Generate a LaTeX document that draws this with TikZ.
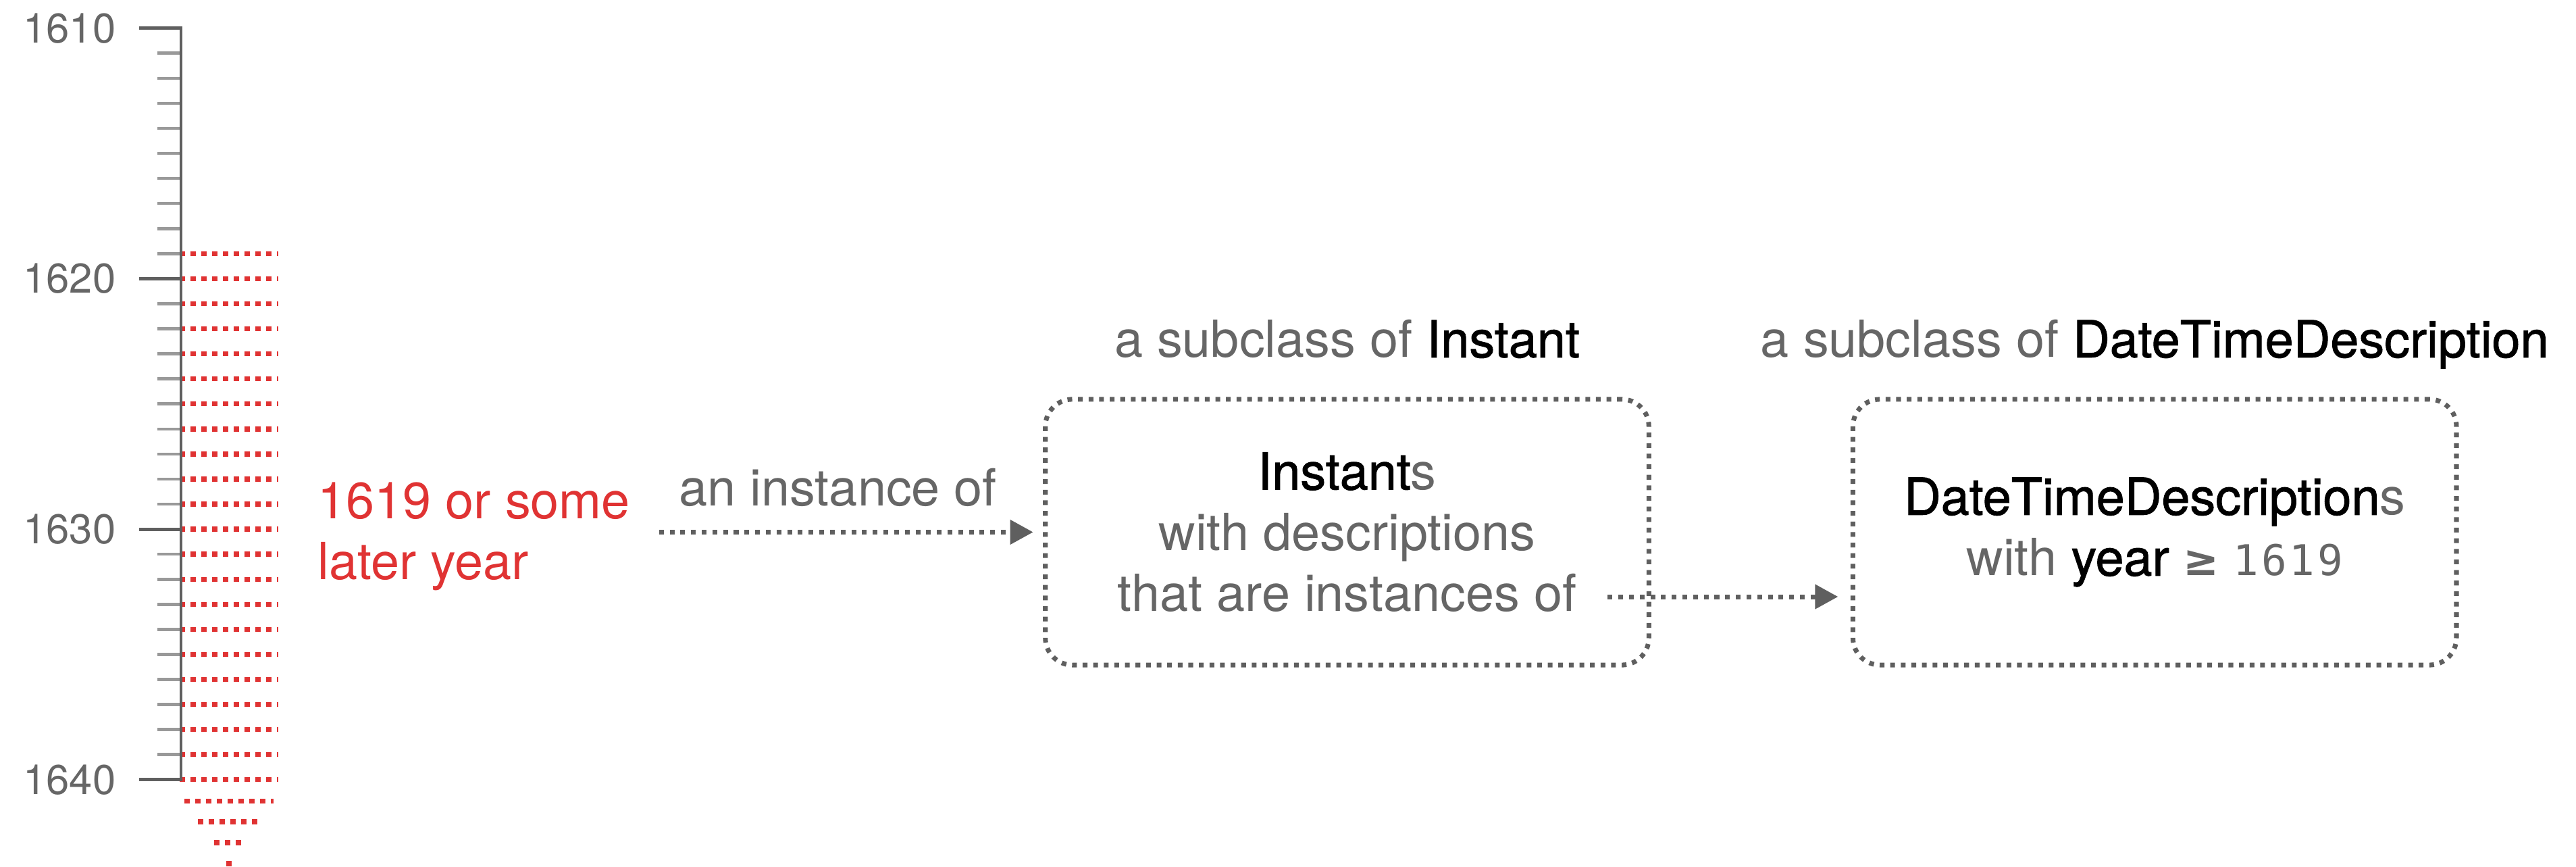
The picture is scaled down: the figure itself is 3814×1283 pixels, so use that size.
\documentclass[tikz,border=0pt]{standalone}
\usepackage{fontspec}
\setmainfont{TeX Gyre Heros}
\newfontfamily\clsfont[FakeBold=1.2]{TeX Gyre Heros}
\newfontfamily\geqfont[BoldFont={DejaVu Sans Bold}]{DejaVu Sans}
\newfontfamily\yearmono[LetterSpace=6]{DejaVu Sans Mono}
\newcommand\cls[1]{{\clsfont\color{black}#1}}
\usepackage{tikz}
\usetikzlibrary{arrows.meta, positioning}
\definecolor{ink}{HTML}{5F5F5F}
\definecolor{txtgray}{HTML}{666666}
\definecolor{tickgray}{HTML}{999999}
\definecolor{yearred}{HTML}{E03333}
\tikzstyle{conn} = [line width=2pt, draw=ink, dash pattern=on 2pt off 2.5pt,
-{Triangle[length=9.7pt, width=10pt]}]
\tikzstyle{classbox} = [rectangle, rounded corners=0.4cm,
minimum width=8.93cm,
minimum height=3.93cm,
outer sep=0pt,
align=center,
draw=ink, line width=2pt, dash pattern=on 2pt off 2.45pt,
text=txtgray, font=\fontsize{21.5}{25.6}\selectfont]
\tikzstyle{note} = [inner sep=0pt, text=txtgray, font=\fontsize{21.5}{25.6}\selectfont]
\tikzstyle{yearlabel} = [anchor=east, inner sep=0pt, text=txtgray, font=\fontsize{17.5}{20}\selectfont]
\tikzstyle{majortick} = [line width=1.4pt, draw=ink]
\tikzstyle{minortick} = [line width=1.3pt, draw=tickgray]
\tikzstyle{reddots} = [line width=2.1pt, draw=yearred, dash pattern=on 2.15pt off 2.4pt]

\begin{document}
\begin{tikzpicture}[x=0.01cm, y=-0.01cm]
            \useasboundingbox (0,0) rectangle (3814,1283);

            % timeline, one tick per year
            \foreach \k in {0,...,30}
                \draw [minortick] (233,{41.7+37.07*\k}) -- (268,{41.7+37.07*\k});
            \foreach \k in {9,...,30}
                \draw [reddots] (266,{41.7+37.07*\k}) -- (412,{41.7+37.07*\k});
            \foreach \y/\a/\b in {1185.7/273/405, 1216/293/382, 1247/317/357, 1278/335/343}
                \draw [reddots] (\a,\y) -- (\b,\y);
            \foreach \k in {10,20}
                \draw [majortick] (206,{41.7+37.07*\k}) -- (268,{41.7+37.07*\k});
            \draw [majortick] (206,41.7) -- (268,41.7) -- (268,1153.8) -- (206,1153.8);
            \foreach \k/\yr in {0/1610, 10/1620, 20/1630, 30/1640}
                \node (y\yr) [yearlabel] at (172,{41.7+37.07*\k}) {\yr};

            \node (later) [note, text=yearred, align=left, anchor=west] at (470,794) {1619 or some\\later year};

            \node (inst) [classbox] at (1994.5,787.5) {\cls{Instant}s\\with descriptions\\that are instances of};
            \node (dtd)  [classbox, right=3.02cm of inst] {\cls{DateTimeDescription}s\\with \cls{year} {\geqfont\bfseries\fontsize{18}{25.6}\selectfont ≥} {\yearmono\fontsize{17.8}{25.6}\selectfont 1619}};

            \node (instsup) [note, anchor=base] at ([yshift=0.62cm]inst.north) {a subclass of \cls{Instant}};
            \node (dtdsup)  [note, anchor=base] at ([yshift=0.62cm]dtd.north) {a subclass of \cls{DateTimeDescription}};

            \coordinate (instend) at ([xshift=-0.61cm, yshift=-0.955cm]inst.east);

            \draw [conn, shorten <=0.42cm, shorten >=0.18cm] (later.east |- inst.west) -- node [note, above=0.34cm, pos=0.5] (isa) {an instance of} (inst.west);
            \draw [conn, shorten >=0.22cm] (instend) -- (instend -| dtd.west);
\end{tikzpicture}
\end{document}
